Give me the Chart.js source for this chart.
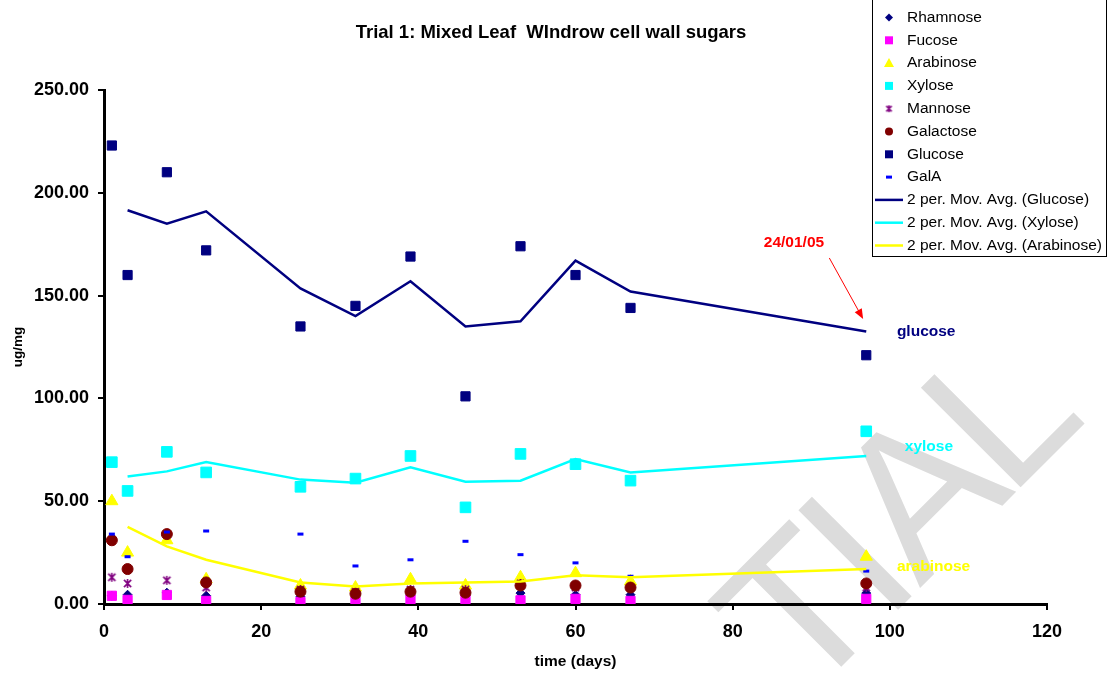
<!DOCTYPE html>
<html>
<head>
<meta charset="utf-8">
<script src="https://cdn.jsdelivr.net/npm/chart.js@4.4.0/dist/chart.umd.min.js"></script>
<style>
  html, body { margin: 0; padding: 0; background: #fff; }
</style>
</head>
<body>
<canvas id="grafico" width="1107" height="674"></canvas>
<script>
// sampling days (x) and measured sugars (ug/mg)
const days = [1, 3, 8, 13, 25, 32, 39, 46, 53, 60, 67, 97];
const rhamnose = [4, 4.5, 5.5, 4, 3.5, 3, 4, 4, 5.3, 4.5, 4.5, 5.3];
const fucose = [4, 2, 4.4, 1.5, 1, 1, 2.2, 2, 1.8, 2.5, 1.5, 2.5];
const arabinose = [50, 25, 31, 12, 9, 8, 12, 9, 13, 15, 11, 23];
const xylose = [69, 55, 74, 64, 57, 61, 72, 47, 73, 68, 60, 84];
const mannose = [13, 10, 11.5, 8, 7, 6, 7, 7, 10, 8, 8, 8];
const galactose = [31, 17, 34, 10.5, 6, 5, 6, 5.5, 9, 9, 8, 10];
const glucose = [223, 160, 210, 172, 135, 145, 169, 101, 174, 160, 144, 121];
const galA = [34, 23, 35, 35.5, 34, 18.5, 21.5, 30.5, 24, 20, 13.5, 16];

// 2 period moving averages as read from the trendlines
const maDays = [3, 8, 13, 25, 32, 39, 46, 53, 60, 67, 97];
const glucoseMA = [191.5, 185, 191, 153.5, 140, 157, 135, 137.5, 167, 152, 132.5];
const xyloseMA = [62, 64.5, 69, 60.5, 59, 66.5, 59.5, 60, 70.5, 64, 72];
const arabinoseMA = [37.5, 28, 21.5, 10.5, 8.5, 10, 10.5, 11, 14, 13, 17];

const xTicks = [0, 20, 40, 60, 80, 100, 120];
const yTicks = [0, 50, 100, 150, 200, 250];

const titulo = "Trial 1: Mixed Leaf  WIndrow cell wall sugars";
const FONT = "Arial, 'Liberation Sans', sans-serif";

function pts(xs, ys) {
  return xs.map((x, i) => ({ x: x, y: ys[i] }));
}

// asterisk marker like excel's (x plus vertical bar)
function asterisco(size, color) {
  const c = document.createElement("canvas");
  c.width = size; c.height = size;
  const g = c.getContext("2d");
  g.strokeStyle = color;
  g.lineWidth = 1.6;
  const m = size / 2, r = size / 2 - 1;
  g.beginPath();
  g.moveTo(m - r * 0.8, m - r * 0.8); g.lineTo(m + r * 0.8, m + r * 0.8);
  g.moveTo(m + r * 0.8, m - r * 0.8); g.lineTo(m - r * 0.8, m + r * 0.8);
  g.moveTo(m, m - r); g.lineTo(m, m + r);
  g.stroke();
  return c;
}
const mannoseImg = asterisco(11, "#800080");
const mannoseLeg = asterisco(9, "#800080");

const series = [
  { label: "Rhamnose", data: rhamnose, style: "rectRot", r: 4.5, color: "#000080" },
  { label: "Fucose", data: fucose, style: "rect", r: 6.5, color: "#FF00FF" },
  { label: "Arabinose", data: arabinose, style: "triangle", r: 7, color: "#FFFF00" },
  { label: "Xylose", data: xylose, style: "rect", r: 7.5, color: "#00FFFF" },
  { label: "Mannose", data: mannose, style: mannoseImg, r: 5, color: "#800080" },
  { label: "Galactose", data: galactose, style: "circle", r: 5.5, color: "#800000" },
  { label: "Glucose", data: glucose, style: "rect", r: 6.5, color: "#000080" },
  { label: "GalA", data: galA, style: "line", r: 3, color: "#0000FF" },
];

const medias = [
  { label: "2 per. Mov. Avg. (Glucose)", data: glucoseMA, color: "#000080" },
  { label: "2 per. Mov. Avg. (Xylose)", data: xyloseMA, color: "#00FFFF" },
  { label: "2 per. Mov. Avg. (Arabinose)", data: arabinoseMA, color: "#FFFF00" },
];

const datasets = [];
series.forEach((s, i) => {
  datasets.push({
    label: s.label,
    data: pts(days, s.data),
    showLine: false,
    pointStyle: s.style,
    pointRadius: s.r,
    backgroundColor: s.color,
    borderColor: s.color,
    borderWidth: s.style === "line" ? 3 : 1,
    order: 20 - i,
  });
});
medias.forEach((m, i) => {
  datasets.push({
    label: m.label,
    data: pts(maDays, m.data),
    showLine: true,
    pointRadius: 0,
    borderColor: m.color,
    backgroundColor: m.color,
    borderWidth: 2.5,
    tension: 0,
    order: 3 - i,
  });
});

// TRIAL watermark behind everything
const marcaDagua = {
  id: "marcaDagua",
  beforeDraw(chart) {
    const ctx = chart.ctx;
    ctx.save();
    ctx.fillStyle = "#dcdcdc";
    ctx.font = "205px " + FONT;
    ctx.textAlign = "center";
    ctx.textBaseline = "alphabetic";
    [["T", 848, 660], ["I", 905, 603], ["A", 968, 540], ["L", 1049, 459]].forEach(l => {
      ctx.save();
      ctx.translate(l[1], l[2]);
      ctx.rotate(-Math.PI / 4);
      ctx.fillText(l[0], 0, 0);
      ctx.restore();
    });
    ctx.restore();
  },
};

// labels, date note and arrow placed in data coordinates
const anotacoes = {
  id: "anotacoes",
  afterDatasetsDraw(chart) {
    const ctx = chart.ctx;
    const sx = chart.scales.x, sy = chart.scales.y;
    ctx.save();
    ctx.font = "bold 15.5px " + FONT;
    ctx.textBaseline = "middle";
    ctx.textAlign = "left";
    ctx.fillStyle = "#000080";
    ctx.fillText("glucose", sx.getPixelForValue(100.9), sy.getPixelForValue(132.3));
    ctx.fillStyle = "#00FFFF";
    ctx.fillText("xylose", sx.getPixelForValue(101.9), sy.getPixelForValue(76.4));
    ctx.fillStyle = "#FFFF00";
    ctx.fillText("arabinose", sx.getPixelForValue(100.9), sy.getPixelForValue(18));
    ctx.fillStyle = "#FF0000";
    ctx.textAlign = "center";
    ctx.fillText("24/01/05", sx.getPixelForValue(87.8), sy.getPixelForValue(175.6));

    const x0 = sx.getPixelForValue(92.3), y0 = sy.getPixelForValue(168.3);
    const x1 = sx.getPixelForValue(96.6), y1 = sy.getPixelForValue(138.6);
    const ang = Math.atan2(y1 - y0, x1 - x0);
    ctx.strokeStyle = "#FF0000";
    ctx.lineWidth = 1;
    ctx.beginPath();
    ctx.moveTo(x0, y0);
    ctx.lineTo(x1 - 8 * Math.cos(ang), y1 - 8 * Math.sin(ang));
    ctx.stroke();
    ctx.beginPath();
    ctx.moveTo(x1, y1);
    ctx.lineTo(x1 - 10 * Math.cos(ang) + 4 * Math.sin(ang), y1 - 10 * Math.sin(ang) - 4 * Math.cos(ang));
    ctx.lineTo(x1 - 10 * Math.cos(ang) - 4 * Math.sin(ang), y1 - 10 * Math.sin(ang) + 4 * Math.cos(ang));
    ctx.closePath();
    ctx.fill();
    ctx.restore();
  },
};

function marcador(ctx, style, x, y, color) {
  ctx.save();
  ctx.fillStyle = color;
  ctx.strokeStyle = color;
  ctx.beginPath();
  if (style === "rectRot") {
    ctx.moveTo(x, y - 4); ctx.lineTo(x + 4, y); ctx.lineTo(x, y + 4); ctx.lineTo(x - 4, y);
    ctx.closePath(); ctx.fill();
  } else if (style === "rect") {
    ctx.rect(x - 4, y - 4, 8, 8); ctx.fill();
  } else if (style === "triangle") {
    ctx.moveTo(x, y - 5); ctx.lineTo(x + 5, y + 4); ctx.lineTo(x - 5, y + 4);
    ctx.closePath(); ctx.fill();
  } else if (style === "circle") {
    ctx.arc(x, y, 4, 0, Math.PI * 2); ctx.fill();
  } else if (style === "line") {
    ctx.rect(x - 3, y - 1.5, 6, 3); ctx.fill();
  } else {
    ctx.drawImage(mannoseLeg, x - 4.5, y - 4.5);
  }
  ctx.restore();
}

// boxed legend at the top right, drawn by hand
const legenda = {
  id: "legenda",
  afterDraw(chart) {
    const ctx = chart.ctx;
    ctx.save();
    ctx.fillStyle = "#fff";
    ctx.fillRect(872, 0, 234, 256);
    ctx.strokeStyle = "#000";
    ctx.lineWidth = 1;
    ctx.strokeRect(872.5, -1, 234, 257.5);
    ctx.font = "15.5px " + FONT;
    ctx.textBaseline = "middle";
    ctx.textAlign = "left";
    let y = 17.5;
    series.forEach(s => {
      marcador(ctx, s.style, 889, y, s.color);
      ctx.fillStyle = "#000";
      ctx.fillText(s.label, 907, y);
      y += 22.8;
    });
    medias.forEach(m => {
      ctx.strokeStyle = m.color;
      ctx.lineWidth = 2.5;
      ctx.beginPath();
      ctx.moveTo(875, y); ctx.lineTo(903, y);
      ctx.stroke();
      ctx.fillStyle = "#000";
      ctx.fillText(m.label, 907, y);
      y += 22.8;
    });
    ctx.restore();
  },
};

const tituloPlugin = {
  id: "tituloPlugin",
  afterDraw(chart) {
    const ctx = chart.ctx;
    ctx.save();
    ctx.font = "bold 18.5px " + FONT;
    ctx.fillStyle = "#000";
    ctx.textAlign = "center";
    ctx.textBaseline = "middle";
    ctx.fillText(titulo, 551, 33);
    ctx.restore();
  },
};

const ctx = document.getElementById("grafico").getContext("2d");
let myChart = new Chart(ctx, {
  type: "scatter",
  data: { datasets: datasets },
  plugins: [marcaDagua, anotacoes, legenda, tituloPlugin],
  options: {
    responsive: false,
    animation: false,
    events: [],
    layout: { padding: { top: 90, right: 60, left: 0, bottom: 0 } },
    plugins: {
      legend: { display: false },
      tooltip: { enabled: false },
    },
    scales: {
      x: {
        type: "linear",
        min: 0,
        max: 120,
        afterBuildTicks: (s) => { s.ticks = xTicks.map(v => ({ value: v })); },
        afterFit: (s) => { s.height = 70; },
        ticks: { color: "#000", font: { family: FONT, size: 18, weight: "bold" }, padding: 11 },
        grid: { drawOnChartArea: false, color: "#000", lineWidth: 2, tickLength: 6 },
        border: { display: true, color: "#000", width: 3 },
        title: {
          display: true, text: "time (days)", color: "#000",
          font: { family: FONT, size: 15.5, weight: "bold" }, padding: { top: 4, bottom: 3 },
        },
      },
      y: {
        min: 0,
        max: 250,
        afterBuildTicks: (s) => { s.ticks = yTicks.map(v => ({ value: v })); },
        afterFit: (s) => { s.width = 104; },
        ticks: {
          color: "#000", font: { family: FONT, size: 18, weight: "bold" }, padding: 9,
          callback: (v) => Number(v).toFixed(2),
        },
        grid: { drawOnChartArea: false, color: "#000", lineWidth: 2, tickLength: 6 },
        border: { display: true, color: "#000", width: 3 },
        title: {
          display: true, text: "ug/mg", color: "#000",
          font: { family: FONT, size: 13.5, weight: "bold" }, padding: { top: 10, bottom: 4 },
        },
      },
    },
  },
});
</script>
</body>
</html>
